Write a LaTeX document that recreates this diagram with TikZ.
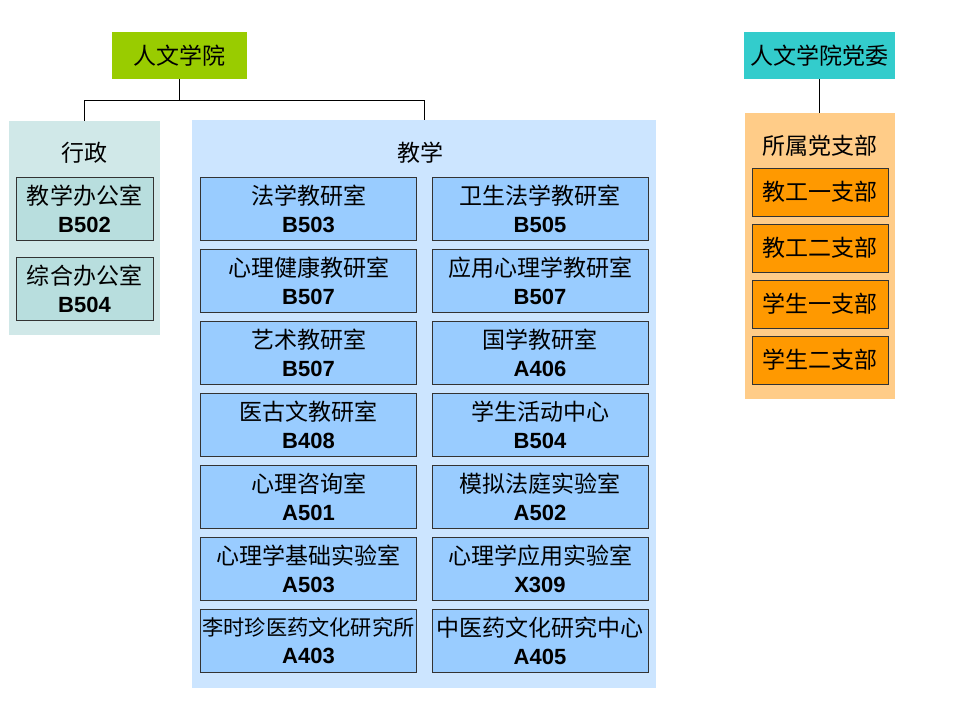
\documentclass[tikz,border=0pt]{standalone}
\usepackage{fontspec}
\setmainfont{Liberation Sans}
\newfontfamily\cjk{Noto Sans CJK SC}
\definecolor{topgreen}{RGB}{153,204,0}
\definecolor{topteal}{RGB}{51,204,204}
\definecolor{xzpanel}{RGB}{208,232,232}
\definecolor{xzbox}{RGB}{184,222,222}
\definecolor{jxpanel}{RGB}{204,229,255}
\definecolor{jxbox}{RGB}{153,204,255}
\definecolor{dwpanel}{RGB}{255,204,136}
\definecolor{dwbox}{RGB}{255,153,0}
\begin{document}
\begin{tikzpicture}[x=1pt,y=-1pt,
  cjkfont/.style={font=\cjk\fontsize{23}{28}\selectfont},
  headbox/.style={cjkfont,inner sep=0pt,minimum height=47pt,text=black},
  panelbox/.style={inner sep=0pt,anchor=north west},
  room/.style={draw=black!80,line width=0.8pt,inner sep=0pt,text width=216pt,minimum height=63pt,align=center,font=\fontsize{22}{28}\selectfont,fill=jxbox},
  office/.style={room,text width=137pt,fill=xzbox},
  branch/.style={draw=black!80,line width=0.8pt,inner sep=0pt,minimum width=136pt,minimum height=48pt,cjkfont,fill=dwbox},
  title/.style={cjkfont,inner sep=0pt},
  conn/.style={draw=black,line width=0.8pt}
]
\useasboundingbox (0,0) rectangle (960,720);
% top boxes
\node[headbox,fill=topgreen,minimum width=135pt] (top) at (179.5,55.5) {人文学院};
\node[headbox,fill=topteal,minimum width=151pt] (dw) at (819.5,55.5) {人文学院党委};
% panels
\node[panelbox,fill=xzpanel,minimum width=151pt,minimum height=214pt] (xz) at (9,121) {};
\node[panelbox,fill=jxpanel,minimum width=464pt,minimum height=568pt] (jx) at (192,120) {};
\node[panelbox,fill=dwpanel,minimum width=150pt,minimum height=286pt] (zb) at (745,113) {};
% titles
\node[title] (xzt) at (84.5,153) {行政};
\node[title] (jxt) at (420,153) {教学};
\node[title] (zbt) at (820,146) {所属党支部};
% offices
\node[office] (o1) at (84.5,208.5) {{\cjk\fontsize{23}{28}\selectfont 教学办公室}\\\bfseries B502};
\node[office] (o2) at (84.5,288.5) {{\cjk\fontsize{23}{28}\selectfont 综合办公室}\\\bfseries B504};
% teaching rooms
\foreach \n/\c [count=\i] in {法学教研室/B503,心理健康教研室/B507,艺术教研室/B507,医古文教研室/B408,心理咨询室/A501,心理学基础实验室/A503}{
  \node[room] (L\i) at (308.5,{208.5+72*(\i-1)}) {{\cjk\fontsize{23}{28}\selectfont \n}\\\bfseries \c};
}
\node[room] (L7) at (308.5,640.5) {{\cjk\fontsize{22.5}{28}\selectfont\makebox[214pt][c]{\resizebox{212pt}{!}{李时珍医药文化研究所}}}\\\bfseries A403};
\foreach \n/\c [count=\i] in {卫生法学教研室/B505,应用心理学教研室/B507,国学教研室/A406,学生活动中心/B504,模拟法庭实验室/A502,心理学应用实验室/X309,中医药文化研究中心/A405}{
  \node[room] (R\i) at (540,{208.5+72*(\i-1)}) {{\cjk\fontsize{23}{28}\selectfont \n}\\\bfseries \c};
}
% party branches
\node[branch] (b1) at (820,192) {教工一支部};
\node[branch] (b2) at (820,248) {教工二支部};
\node[branch] (b3) at (820,304) {学生一支部};
\node[branch] (b4) at (820,360) {学生二支部};
% connectors
\coordinate (hub) at (179.5,100);
\draw[conn] (top.south) -- (hub);
\draw[conn] (hub) -| (xz.north);
\draw[conn] (hub) -| (jx.north);
\draw[conn] (dw.south) -- (dw.south |- zb.north);
\end{tikzpicture}
\end{document}
